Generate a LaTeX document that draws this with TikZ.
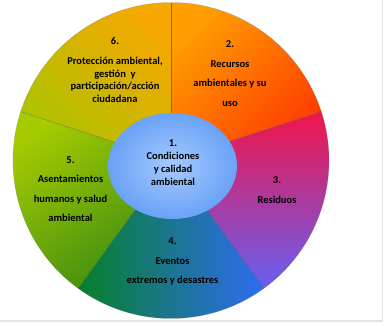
\documentclass[tikz,border=0pt]{standalone}
\usepackage{fontspec}
\setmainfont{Carlito}
\usetikzlibrary{calc}
\definecolor{c6t}{HTML}{F4A800}
\definecolor{c6b}{HTML}{ABC400}
\definecolor{c2t}{HTML}{FF9E00}
\definecolor{c2b}{HTML}{FF3A00}
\definecolor{c3t}{HTML}{F2144A}
\definecolor{c3m}{HTML}{D2399C}
\definecolor{c3b}{HTML}{6660F2}
\definecolor{c4l}{HTML}{07802A}
\definecolor{c4m}{HTML}{1F7A8A}
\definecolor{c4r}{HTML}{2F6BF4}
\definecolor{c5t}{HTML}{A6CC00}
\definecolor{c5b}{HTML}{3D8C12}
\definecolor{c1i}{HTML}{A6CAFF}
\definecolor{c1o}{HTML}{6AA2F6}
\definecolor{frame}{HTML}{E4E4E4}
\begin{document}
\begin{tikzpicture}[x=1pt,y=1pt,
  lab/.style={align=center, text=black, inner sep=0pt, font=\fontsize{10.5}{19.5}\selectfont\bfseries},
  labtight/.style={lab, font=\fontsize{10.5}{12.8}\selectfont\bfseries},
  sep/.style={draw=black!70, line width=0.4pt, opacity=0.6}]
\useasboundingbox (0,0) rectangle (384,325);
\coordinate (C) at (171,164.5);
% sectors
\shade[top color=c6t, bottom color=c6b, shading angle=-45]
  (C) -- ++(90:158pt) arc[start angle=90,end angle=162,radius=158pt] -- cycle;
\shade[top color=c2t, bottom color=c2b, shading angle=45]
  (C) -- ++(18:158pt) arc[start angle=18,end angle=90,radius=158pt] -- cycle;
\shade[top color=c3t, middle color=c3m, bottom color=c3b, shading angle=0]
  (C) -- ++(-54:158pt) arc[start angle=-54,end angle=18,radius=158pt] -- cycle;
\shade[left color=c4l, middle color=c4m, right color=c4r]
  (C) -- ++(-126:158pt) arc[start angle=-126,end angle=-54,radius=158pt] -- cycle;
\shade[top color=c5t, bottom color=c5b, shading angle=35]
  (C) -- ++(162:158pt) arc[start angle=162,end angle=234,radius=158pt] -- cycle;
% separators and outline
\foreach \a in {90,18,-54,-126,162} \draw[sep] (C) -- ++(\a:158pt);
\draw[black!60, line width=0.3pt, opacity=0.5] (C) circle[radius=158pt];
% inner ellipse
\shade[inner color=c1i, outer color=c1o] (172.5,159) ellipse[x radius=64.5pt, y radius=53pt];
% frame
\draw[frame, line width=1.2pt] (0,4) -- (382.5,4) -- (382.5,325);
% labels
\node[labtight] (t6) at (115,255) {6.\\[7pt]Protección ambiental,\\gestión\ \ y\hspace*{30pt}\\participación/acción\\ciudadana};
\node[lab] (t2) at (230,251.5) {2.\\Recursos\\ambientales y su\\uso};
\node[labtight] (t1) at (173,162.5) {1.\\Condiciones\\y calidad\\ambiental};
\node[lab] (t3) at (277,135) {3.\\Residuos};
\node[lab] (t5) at (70.5,136) {5.\\Asentamientos\\humanos y salud\\ambiental};
\node[lab] (t4) at (172.5,63.5) {4.\\Eventos\\extremos y desastres};
\end{tikzpicture}
\end{document}
